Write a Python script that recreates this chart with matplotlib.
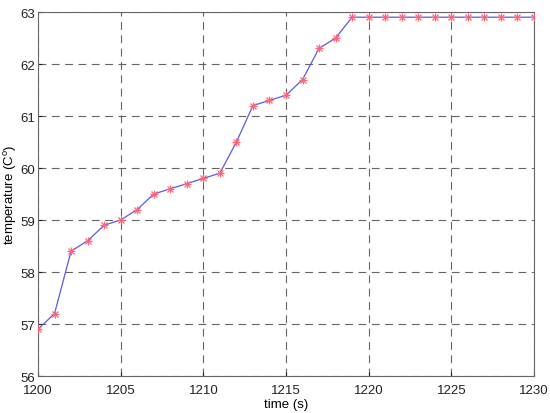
import numpy as np
import matplotlib
matplotlib.use("Agg")
import matplotlib.pyplot as plt

plt.rcParams['font.family'] = ['Liberation Sans', 'DejaVu Sans']

# tempo (s) e temperatura lida
tempo = list(range(1200, 1231))
temperatura = [56.9, 57.2, 58.4, 58.6, 58.9, 59.0, 59.2, 59.5, 59.6, 59.7,
               59.8, 59.9, 60.5, 61.2, 61.3, 61.4, 61.7, 62.3, 62.5, 62.9,
               62.9, 62.9, 62.9, 62.9, 62.9, 62.9, 62.9, 62.9, 62.9, 62.9, 62.9]

x_ticks = [1200, 1205, 1210, 1215, 1220, 1225, 1230]
y_ticks = [56, 57, 58, 59, 60, 61, 62, 63]

fig = plt.figure(figsize=(5.5, 4.14), dpi=100)
ax = fig.add_axes([38 / 550, 1 - 377 / 414, (534 - 38) / 550, (377 - 13) / 414])

ax.plot(tempo, temperatura, color='#5a5ae6', linewidth=0.9, zorder=3)
# asterisco estilo MATLAB: '+' sobre 'x'
ax.plot(tempo, temperatura, linestyle='none', marker='+', markersize=6,
        markeredgewidth=0.9, color='#ff6478', zorder=4)
ax.plot(tempo, temperatura, linestyle='none', marker='x', markersize=4.2,
        markeredgewidth=0.9, color='#ff6478', zorder=4)

ax.set_xlim(1200, 1230)
ax.set_ylim(56, 63)
ax.set_xticks(x_ticks)
ax.set_yticks(y_ticks)
ax.grid(True, linestyle=(0, (7, 5)), color='#646464', linewidth=0.8)
ax.tick_params(direction='in', length=3, labelsize=9.5, colors='#222222')
ax.tick_params(axis='x', pad=6)
ax.tick_params(axis='y', pad=2)
for s in ax.spines.values():
    s.set_color('#666666')
    s.set_linewidth(0.8)

ax.set_xlabel('time (s)', fontsize=9.5, labelpad=1)
ax.set_ylabel('temperature (C$^\\mathregular{o}$)', fontsize=9.5)
ax.yaxis.set_label_coords(-19 / 496, 0.5)

fig.savefig('out.png', dpi=100)
